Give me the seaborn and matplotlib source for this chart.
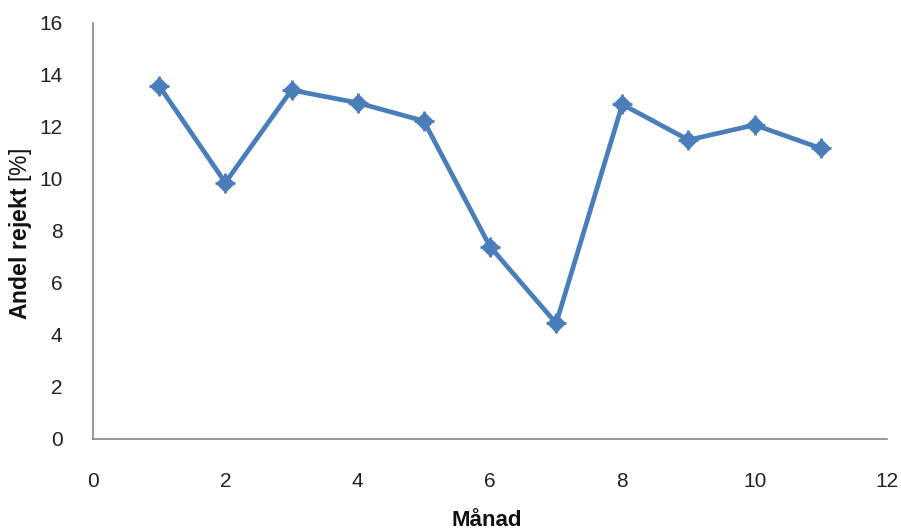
import matplotlib
matplotlib.use("Agg")
import matplotlib.pyplot as plt
import seaborn as sns
import pandas as pd

# Monthly share of rejects
manad = [1, 2, 3, 4, 5, 6, 7, 8, 9, 10, 11]
andel_rejekt = [13.58, 9.86, 13.42, 12.93, 12.23, 7.40, 4.45, 12.87, 11.50, 12.08, 11.18]

df = pd.DataFrame({"Månad": manad, "Andel rejekt": andel_rejekt})

sns.set_theme(style="white")
plt.rcParams["font.family"] = ["Liberation Sans", "DejaVu Sans"]
plt.rcParams["mathtext.fontset"] = "custom"
plt.rcParams["mathtext.rm"] = "Liberation Sans"
plt.rcParams["mathtext.bf"] = "Liberation Sans:bold"

fig = plt.figure(figsize=(9.01, 5.31), dpi=100)
ax = fig.add_axes([93 / 901, 92 / 531, 794 / 901, 416 / 531])

blue = "#4A7EBB"
sns.lineplot(data=df, x="Månad", y="Andel rejekt", ax=ax, color=blue,
             linewidth=3.4, marker="D", markersize=9, markeredgecolor=blue,
             markerfacecolor=blue)
# cross through each marker, like a diamond-with-plus symbol
ax.plot(manad, andel_rejekt, linestyle="none", marker="+", markersize=14,
        markeredgewidth=2, color=blue)

ax.set_xlim(0, 12)
ax.set_ylim(0, 16)
ax.set_xticks(range(0, 13, 2))
ax.set_yticks(range(0, 17, 2))
ax.tick_params(axis="both", length=0, labelsize=15, colors="#222222")
ax.tick_params(axis="x", pad=24)
ax.tick_params(axis="y", pad=22)

for side in ("top", "right"):
    ax.spines[side].set_visible(False)
for side in ("left", "bottom"):
    ax.spines[side].set_color("#868686")
    ax.spines[side].set_linewidth(1.2)

ax.set_xlabel("")
ax.set_ylabel("")
fig.text(487 / 901, 1 - 521 / 531, "Månad", ha="center", va="center",
         fontsize=16, fontweight="bold", color="#111111")
fig.text(21 / 901, 1 - 234 / 531, r"$\mathbf{Andel\ rejekt}$ [%]", rotation=90,
         ha="center", va="center", fontsize=16.5, color="#111111")

fig.savefig("out.png", dpi=100, facecolor="white")
